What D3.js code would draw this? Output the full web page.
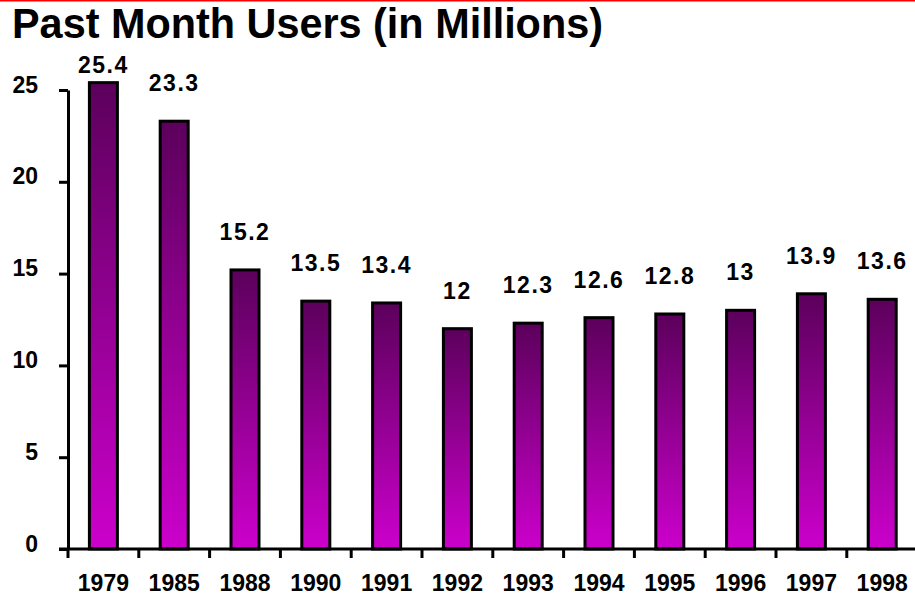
<!DOCTYPE html>
<html>
<head>
<meta charset="utf-8">
<script src="https://cdn.jsdelivr.net/npm/d3@7"></script>
<style>
    body { margin: 0; background: #fff; }
    text { font-family: "Liberation Sans", Arial, sans-serif; font-weight: bold; fill: #000; }
</style>
</head>
<body>
<svg id="chart"></svg>
<script>
let years = ["1979", "1985", "1988", "1990", "1991", "1992", "1993", "1994", "1995", "1996", "1997", "1998"];
let users = [25.4, 23.3, 15.2, 13.5, 13.4, 12.0, 12.3, 12.6, 12.8, 13.0, 13.9, 13.6];
let y_ticks = [0, 5, 10, 15, 20, 25];

let width = 915;
let height = 596;

function draw_chart() {
    let svg = d3.select("#chart")
        .attr("width", width)
        .attr("height", height);

    // bar gradient, dark top to magenta bottom
    let grad = svg.append("defs").append("linearGradient")
        .attr("id", "bar_grad")
        .attr("x1", 0).attr("y1", 0)
        .attr("x2", 0).attr("y2", 1);
    grad.append("stop").attr("offset", "0%").attr("stop-color", "#5c005c");
    grad.append("stop").attr("offset", "100%").attr("stop-color", "#cc00cc");

    // red rule along the top
    svg.append("rect")
        .attr("x", 0).attr("y", 0)
        .attr("width", width).attr("height", 1.5)
        .attr("fill", "#ff0000");

    svg.append("text")
        .attr("x", 12)
        .attr("y", 38)
        .attr("textLength", 591)
        .attr("lengthAdjust", "spacingAndGlyphs")
        .style("font-size", "42px")
        .text("Past Month Users (in Millions)");

    let x = d3.scaleBand()
        .domain(years)
        .range([68, 917.6])
        .padding(0);

    let y = d3.scaleLinear()
        .domain([0, 25])
        .range([549, 90]);

    let bar_w = 28;

    svg.append("g")
        .selectAll("rect")
        .data(users)
        .enter().append("rect")
        .attr("x", function (d, i) { return x(years[i]) + x.bandwidth() / 2 - bar_w / 2; })
        .attr("y", function (d) { return y(d); })
        .attr("width", bar_w)
        .attr("height", function (d) { return y(0) - y(d); })
        .attr("fill", "url(#bar_grad)")
        .attr("stroke", "#000")
        .attr("stroke-width", 3);

    // value labels above bars
    svg.append("g")
        .selectAll("text")
        .data(users)
        .enter().append("text")
        .attr("x", function (d, i) { return x(years[i]) + x.bandwidth() / 2; })
        .attr("y", function (d) { return Math.max(y(d) - 30, 73); })
        .attr("text-anchor", "middle")
        .style("font-size", "23px")
        .style("letter-spacing", "1.5px")
        .text(function (d) { return d3.format("~g")(d); });

    // y axis
    let y_axis = svg.append("g")
        .attr("transform", "translate(68,0)")
        .call(d3.axisLeft(y).tickValues(y_ticks).tickSize(9).tickSizeOuter(0).tickPadding(21));
    y_axis.select(".domain").attr("stroke", "#000").attr("stroke-width", 3);
    y_axis.selectAll(".tick line").attr("stroke", "#000").attr("stroke-width", 3);
    y_axis.selectAll(".tick text")
        .attr("dy", 2)
        .style("font-size", "23px")
        .style("font-family", "\"Liberation Sans\", Arial, sans-serif")
        .style("font-weight", "bold");

    // x axis: labels at band centres, ticks at band edges
    let x_axis = svg.append("g")
        .attr("transform", "translate(0,549)")
        .call(d3.axisBottom(x).tickSize(0).tickPadding(0));
    x_axis.select(".domain").remove();
    x_axis.selectAll(".tick text")
        .attr("y", 42)
        .attr("dy", 0)
        .style("font-size", "23px")
        .style("font-family", "\"Liberation Sans\", Arial, sans-serif")
        .style("font-weight", "bold");

    svg.append("g")
        .selectAll("line")
        .data(years)
        .enter().append("line")
        .attr("x1", function (d) { return x(d); })
        .attr("x2", function (d) { return x(d); })
        .attr("y1", 549)
        .attr("y2", 558)
        .attr("stroke", "#000")
        .attr("stroke-width", 3);

    svg.append("line")
        .attr("x1", 59)
        .attr("x2", width)
        .attr("y1", 549)
        .attr("y2", 549)
        .attr("stroke", "#000")
        .attr("stroke-width", 3);
}

draw_chart();
</script>
</body>
</html>
